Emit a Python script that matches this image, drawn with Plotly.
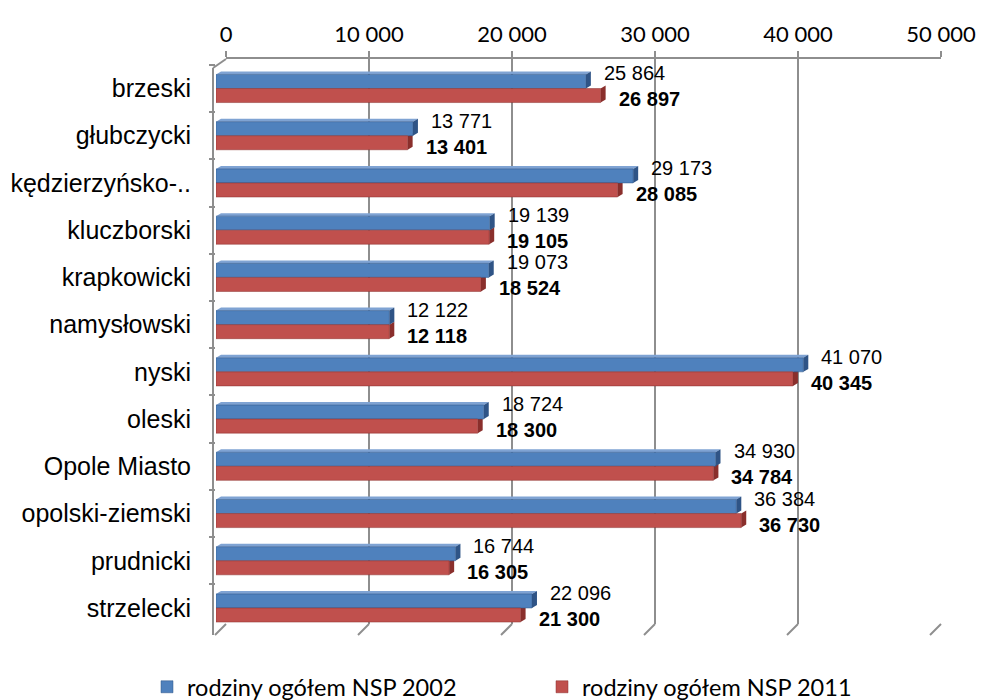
import plotly.graph_objects as go

categories = ["brzeski", "głubczycki", "kędzierzyńsko-..", "kluczborski", "krapkowicki",
              "namysłowski", "nyski", "oleski", "Opole Miasto", "opolski-ziemski",
              "prudnicki", "strzelecki"]
nsp2002 = [25864, 13771, 29173, 19139, 19073, 12122, 41070, 18724, 34930, 36384, 16744, 22096]
nsp2011 = [26897, 13401, 28085, 19105, 18524, 12118, 40345, 18300, 34784, 36730, 16305, 21300]
series_names = ["rodziny ogółem NSP 2002", "rodziny ogółem NSP 2011"]
tick_values = [0, 10000, 20000, 30000, 40000, 50000]
x_max = 50000

W, H = 981, 700
BLUE, RED = "#4F81BD", "#C0504D"
BLUE_SIDE, RED_SIDE = "#2F5486", "#8A2F2C"
BLUE_TOP = "#7FA3D3"
GRID = "#8E8E8E"

def px_x(p):
    return p / W

def px_y(p):
    return 1 - p / H

def fmt(v):
    return f"{v:,}".replace(",", " ")

# back wall
back_l, back_r, back_t, back_b = 226, 941, 59, 624
# front (bars)
front_l, front_r, front_t, front_b = 216, 931, 64.5, 636

fig = go.Figure()
# invisible trace so that the back-wall subplot (gridlines, top axis) is drawn
fig.add_trace(go.Scatter(x=[0, x_max], y=[0, 1], mode="markers", marker=dict(opacity=0),
                         showlegend=False, hoverinfo="skip", xaxis="x", yaxis="y"))
fig.add_trace(go.Bar(y=categories, x=nsp2002, orientation="h", name=series_names[0],
                     marker=dict(color=BLUE, line=dict(color=BLUE_SIDE, width=0.5)),
                     xaxis="x2", yaxis="y2"))
fig.add_trace(go.Bar(y=categories, x=nsp2011, orientation="h", name=series_names[1],
                     marker=dict(color=RED, line=dict(color=RED_SIDE, width=0.5)),
                     xaxis="x2", yaxis="y2"))

bargap = 0.405
w = (1 - bargap) / 2
dx = 5 * x_max / (front_r - front_l)
dy = 3 / ((front_b - front_t) / len(categories))

shapes = []
for i, (b, r) in enumerate(zip(nsp2002, nsp2011)):
    rt, rb = i, i + w
    shapes.append(dict(type="path", xref="x2", yref="y2", layer="between",
                       path=f"M{r},{rb} L{r},{rt} L{r+dx},{rt-dy} L{r+dx},{rb-dy} Z",
                       fillcolor=RED_SIDE, line=dict(width=0)))
    bt, bb = i - w, i
    shapes.append(dict(type="path", xref="x2", yref="y2", layer="between",
                       path=f"M0,{bt} L{b},{bt} L{b+dx},{bt-dy} L{dx},{bt-dy} Z",
                       fillcolor=BLUE_TOP, line=dict(width=0)))
    shapes.append(dict(type="path", xref="x2", yref="y2", layer="between",
                       path=f"M{b},{bb} L{b},{bt} L{b+dx},{bt-dy} L{b+dx},{bb-dy} Z",
                       fillcolor=BLUE_SIDE, line=dict(width=0)))

for t in tick_values:
    xb = back_l + (back_r - back_l) * t / x_max
    shapes.append(dict(type="line", xref="paper", yref="paper",
                       x0=px_x(xb), y0=px_y(back_b), x1=px_x(xb - 11), y1=px_y(back_b + 11),
                       line=dict(color=GRID, width=2)))
shapes.append(dict(type="line", xref="paper", yref="paper",
                   x0=px_x(back_l), y0=px_y(back_t), x1=px_x(front_l - 3), y1=px_y(back_t + 9),
                   line=dict(color=GRID, width=2)))
shapes.append(dict(type="line", xref="paper", yref="paper",
                   x0=px_x(front_l - 3), y0=px_y(back_t + 9), x1=px_x(front_l - 3), y1=px_y(back_b + 11),
                   line=dict(color=GRID, width=2)))

annotations = []
for c, b, r in zip(categories, nsp2002, nsp2011):
    annotations.append(dict(xref="x2", yref="y2", x=b, y=c, text=fmt(b), showarrow=False,
                            xanchor="left", yanchor="middle", xshift=16, yshift=15,
                            font=dict(family="Liberation Sans", size=20, color="black")))
    annotations.append(dict(xref="x2", yref="y2", x=r, y=c, text=f"<b>{fmt(r)}</b>", showarrow=False,
                            xanchor="left", yanchor="middle", xshift=16, yshift=-11,
                            font=dict(family="Liberation Sans", size=20, color="black")))

fig.update_layout(
    width=W, height=H,
    margin=dict(l=0, r=0, t=0, b=0, autoexpand=False),
    paper_bgcolor="white", plot_bgcolor="rgba(0,0,0,0)",
    separators=", ",
    barmode="group", bargap=bargap, bargroupgap=0,
    showlegend=True,
    legend=dict(orientation="h", x=px_x(147), xanchor="left", y=px_y(687), yanchor="middle",
                font=dict(family="Lato", size=23.5, color="black"),
                entrywidth=350, itemwidth=30, traceorder="normal",
                bgcolor="rgba(0,0,0,0)"),
    xaxis=dict(domain=[px_x(back_l), px_x(back_r)], anchor="y", side="top",
               range=[0, x_max], tickvals=tick_values, tickformat=",d",
               showgrid=True, gridcolor=GRID, gridwidth=2,
               showline=True, linecolor=GRID, linewidth=2,
               ticks="outside", ticklen=6, tickcolor=GRID, tickwidth=2,
               zeroline=False, automargin=False, fixedrange=True,
               tickfont=dict(family="Lato", size=22, color="black")),
    yaxis=dict(domain=[px_y(back_b), px_y(back_t)], anchor="x", range=[0, 1],
               visible=False, fixedrange=True),
    xaxis2=dict(domain=[px_x(front_l), px_x(front_r)], anchor="y2", range=[0, x_max],
                visible=False, fixedrange=True),
    yaxis2=dict(domain=[px_y(front_b), px_y(front_t)], anchor="x2", type="category",
                categoryorder="array", categoryarray=categories,
                autorange="reversed", showline=False, ticks="outside", tickson="boundaries",
                ticklen=6, tickcolor=GRID, tickwidth=2, showgrid=False, automargin=False,
                ticklabelstandoff=24, fixedrange=True,
                tickfont=dict(family="Liberation Sans", size=25, color="black")),
    shapes=shapes,
    annotations=annotations,
)

fig.write_html("out.html", config={"displayModeBar": False},
               post_script="document.body.style.margin='0';document.body.style.overflow='hidden';")
